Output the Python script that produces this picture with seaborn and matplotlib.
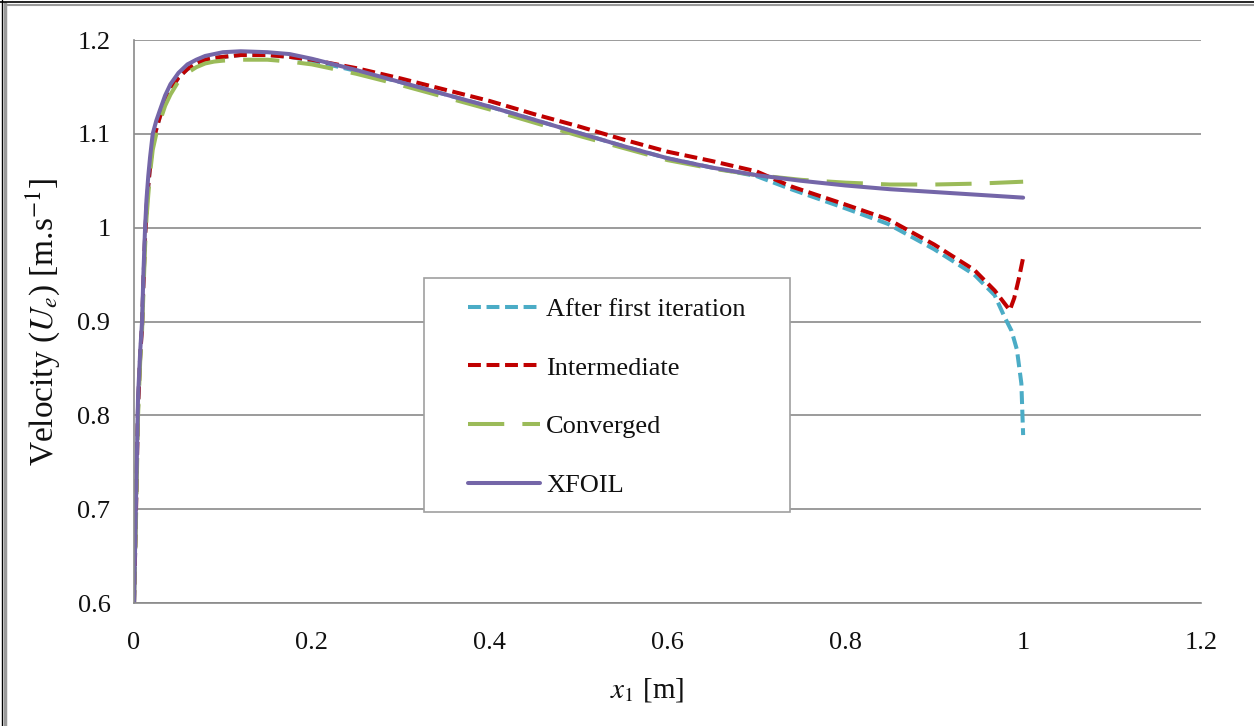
import numpy as np
import pandas as pd
import matplotlib
matplotlib.use("Agg")
import matplotlib.pyplot as plt
from matplotlib.patches import Rectangle
from matplotlib.lines import Line2D
import seaborn as sns

# ---- data -------------------------------------------------------------
x_first = [0, 0.002, 0.0045, 0.007, 0.009, 0.0105, 0.0124, 0.014, 0.016, 0.018,
           0.021, 0.025, 0.029, 0.035, 0.041, 0.05, 0.06, 0.07, 0.08, 0.09, 0.1,
           0.12, 0.15, 0.175, 0.2, 0.25, 0.3, 0.35,
           0.4, 0.45, 0.5, 0.55, 0.6, 0.65, 0.7, 0.739, 0.799, 0.848, 0.9,
           0.945, 0.968, 0.979, 0.987, 0.993, 0.998, 1.0]
u_first = [0.60, 0.69, 0.81, 0.865, 0.895, 0.94, 0.99, 1.02, 1.045, 1.065,
           1.09, 1.105, 1.118, 1.135, 1.147, 1.160, 1.169, 1.175, 1.179, 1.181, 1.182,
           1.184, 1.184, 1.182, 1.178, 1.167, 1.155, 1.142,
           1.129, 1.115, 1.101, 1.087, 1.074, 1.064, 1.055, 1.041, 1.021, 1.004, 0.977,
           0.950, 0.928, 0.905, 0.890, 0.870, 0.834, 0.779]

x_inter = [0, 0.002, 0.0045, 0.007, 0.009, 0.0105, 0.0124, 0.014, 0.016, 0.018,
           0.021, 0.025, 0.029, 0.035, 0.041, 0.05, 0.06, 0.07, 0.08, 0.09, 0.1,
           0.12, 0.15, 0.175, 0.2, 0.25, 0.3, 0.35,
           0.4, 0.45, 0.5, 0.55, 0.6, 0.65, 0.7, 0.739, 0.799, 0.848, 0.9,
           0.945, 0.968, 0.985, 0.99, 0.995, 1.0]
u_inter = [0.60, 0.69, 0.81, 0.865, 0.895, 0.94, 0.99, 1.02, 1.045, 1.065,
           1.09, 1.105, 1.118, 1.135, 1.147, 1.160, 1.169, 1.175, 1.179, 1.181, 1.182,
           1.184, 1.184, 1.182, 1.179, 1.170, 1.159, 1.147,
           1.135, 1.121, 1.108, 1.094, 1.081, 1.071, 1.060, 1.044, 1.025, 1.009, 0.982,
           0.955, 0.933, 0.912, 0.925, 0.945, 0.968]

x_conv = [0, 0.002, 0.0045, 0.007, 0.009, 0.0105, 0.0124, 0.014, 0.016, 0.018,
          0.021, 0.025, 0.029, 0.035, 0.041, 0.05, 0.06, 0.07, 0.08, 0.09, 0.1,
          0.12, 0.15, 0.175, 0.2, 0.25, 0.3, 0.35,
          0.4, 0.45, 0.5, 0.55, 0.6, 0.65, 0.7, 0.75, 0.8, 0.85, 0.9, 0.95, 1.0]
u_conv = [0.60, 0.68, 0.80, 0.86, 0.89, 0.93, 0.98, 1.01, 1.035, 1.058,
          1.083, 1.100, 1.113, 1.130, 1.142, 1.156, 1.165, 1.171, 1.175, 1.177, 1.178,
          1.179, 1.179, 1.177, 1.174, 1.164, 1.152, 1.139,
          1.126, 1.112, 1.098, 1.085, 1.072, 1.063, 1.056, 1.051, 1.048, 1.046, 1.046, 1.047, 1.049]

x_xfoil = [0, 0.002, 0.0045, 0.007, 0.009, 0.0105, 0.0124, 0.014, 0.016, 0.018,
           0.021, 0.025, 0.029, 0.035, 0.041, 0.05, 0.06, 0.07, 0.08, 0.09, 0.1,
           0.12, 0.15, 0.175, 0.2, 0.25, 0.3, 0.35,
           0.4, 0.45, 0.5, 0.55, 0.6, 0.65, 0.7, 0.75, 0.8, 0.85, 0.9, 0.95, 1.0]
u_xfoil = [0.60, 0.70, 0.82, 0.87, 0.90, 0.95, 1.00, 1.03, 1.055, 1.075,
           1.10, 1.114, 1.125, 1.141, 1.153, 1.165, 1.174, 1.179, 1.183, 1.185, 1.187,
           1.188, 1.187, 1.185, 1.180, 1.168, 1.155, 1.142,
           1.129, 1.115, 1.101, 1.087, 1.074, 1.064, 1.056, 1.050, 1.045, 1.041, 1.038, 1.035, 1.032]

series_names = ["After first iteration", "Intermediate", "Converged", "XFOIL"]
x_ticks = [0, 0.2, 0.4, 0.6, 0.8, 1.0, 1.2]
x_tick_labels = ["0", "0.2", "0.4", "0.6", "0.8", "1", "1.2"]
y_ticks = [0.6, 0.7, 0.8, 0.9, 1.0, 1.1, 1.2]
y_tick_labels = ["0.6", "0.7", "0.8", "0.9", "1", "1.1", "1.2"]

df = pd.concat([
    pd.DataFrame({"x": x_first, "U": u_first, "series": series_names[0]}),
    pd.DataFrame({"x": x_inter, "U": u_inter, "series": series_names[1]}),
    pd.DataFrame({"x": x_conv, "U": u_conv, "series": series_names[2]}),
    pd.DataFrame({"x": x_xfoil, "U": u_xfoil, "series": series_names[3]}),
], ignore_index=True)

# ---- style ------------------------------------------------------------
sns.set_style("white")
plt.rcParams["font.family"] = ["Liberation Serif", "DejaVu Serif"]
plt.rcParams["mathtext.fontset"] = "stix"

palette = {
    series_names[0]: "#4BACC6",
    series_names[1]: "#C00000",
    series_names[2]: "#9BBB59",
    series_names[3]: "#7466A8",
}
dashes = {
    series_names[0]: (3.2, 1.4),
    series_names[1]: (3.2, 1.4),
    series_names[2]: (9.0, 4.5),
    series_names[3]: "",
}
grid_col = "#8A8A8A"
text_col = "#111111"

fig = plt.figure(figsize=(12.54, 7.26), dpi=100, facecolor="white")
ax = fig.add_axes([0.1069, 0.1694, 0.8508, 0.7755])

sns.lineplot(data=df, x="x", y="U", hue="series", style="series",
             hue_order=series_names, style_order=series_names,
             palette=palette, dashes=dashes, linewidth=2.9,
             estimator=None, sort=False, ax=ax, legend=True)

ax.set_xlim(0, 1.2)
ax.set_ylim(0.6, 1.2)
ax.set_xticks(x_ticks)
ax.set_xticklabels(x_tick_labels)
ax.set_yticks(y_ticks)
ax.set_yticklabels(y_tick_labels)
ax.tick_params(axis="both", length=0, labelsize=19, labelcolor=text_col)
ax.tick_params(axis="y", pad=17)
ax.tick_params(axis="x", pad=21)
ax.yaxis.grid(True, color=grid_col, linewidth=1.2)
ax.xaxis.grid(False)
for side in ("top", "right"):
    ax.spines[side].set_visible(False)
for side in ("left", "bottom"):
    ax.spines[side].set_color(grid_col)
    ax.spines[side].set_linewidth(1.2)

ax.set_xlabel("$x_1$ [m]", fontsize=21, color=text_col)
ax.xaxis.set_label_coords(0.481, -0.13)
ax.set_ylabel("Velocity ($U_e$) [m.s$^{-1}$]", fontsize=24, color=text_col)
ax.yaxis.set_label_coords(-0.068, 0.5)

# legend box and entries
box = Rectangle((0.2718, 0.1616), 0.343, 0.4156, transform=ax.transAxes,
                facecolor="white", edgecolor="#A0A0A0", linewidth=1.2, zorder=4)
ax.add_patch(box)
handles, labels = ax.get_legend_handles_labels()
leg = ax.legend(handles, labels, loc="upper left", bbox_to_anchor=(0.313, 0.543),
                frameon=False, fontsize=19, handlelength=2.73, handletextpad=0.23,
                labelspacing=1.34, borderpad=0, borderaxespad=0)
leg.set_zorder(5)
for t in leg.get_texts():
    t.set_color(text_col)

# outer frame lines on the left and top edges
W, H = 1254, 726
fig.add_artist(Line2D([1.5 / W, 1.5 / W], [0, 1], color="black", lw=1.0,
                      transform=fig.transFigure))
fig.add_artist(Line2D([5 / W, 5 / W], [0, 1 - 3 / H], color="#9A9A9A", lw=2.5,
                      transform=fig.transFigure))
fig.add_artist(Line2D([0, 1], [1 - 2 / H, 1 - 2 / H], color="black", lw=1.2,
                      transform=fig.transFigure))
fig.add_artist(Line2D([5 / W, 1], [1 - 4.5 / H, 1 - 4.5 / H], color="#9A9A9A", lw=1.5,
                      transform=fig.transFigure))

fig.savefig("out.png", dpi=100, facecolor="white")
